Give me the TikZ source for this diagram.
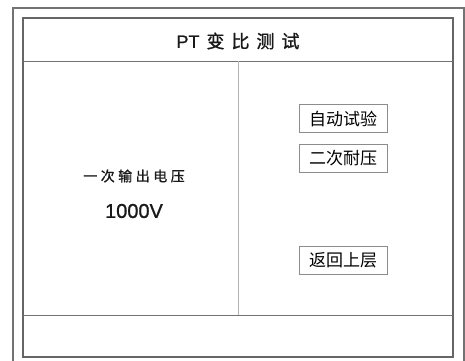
\documentclass[tikz,border=0pt]{standalone}
\usepackage{fontspec}
\setmainfont{Liberation Sans}
\newfontfamily\cjk{Noto Sans CJK SC}
\newfontfamily\cjkb[FakeBold=1.2]{Noto Sans CJK SC}
\newfontfamily\latb[FakeBold=1.0]{Liberation Sans}
\begin{document}
\begin{tikzpicture}[x=1pt,y=-1pt,
  frameline/.style={draw=black!60,line width=1.6pt},
  outerline/.style={draw=black!55,line width=1.3pt},
  divline/.style={draw=black!55,line width=0.9pt},
  vline/.style={draw=black!30,line width=1pt},
  btn/.style={draw=black!45,line width=0.8pt,minimum width=88pt,minimum height=28pt,inner sep=0pt,font=\cjk\fontsize{17}{17}\selectfont,text=black},
  lbl/.style={inner sep=0pt,text=black!90}]
\useasboundingbox (0,0) rectangle (465,360);
\fill[white] (0,0) rectangle (465,360);
% outer frame (bottom is beyond the picture)
\draw[outerline] (13,370) -- (13,8) -- (464,8) -- (464,370);
% inner frame
\draw[frameline] (23,18) rectangle (453,357);
\coordinate (tl) at (23,61);
\coordinate (tr) at (453,61);
\coordinate (bl) at (23,315);
\coordinate (br) at (453,315);
\coordinate (vt) at (238,61);
\coordinate (vb) at (238,315);
\draw[divline] (tl) -- (tr);
\draw[divline] (bl) -- (br);
\draw[vline] (vt) -- (vb);
% title
\node[lbl] (title) at (238,41) {\latb\fontsize{18}{18}\selectfont PT\hspace{7pt}{\cjkb 变\hspace{7pt}比\hspace{7pt}测\hspace{7pt}试}};
% left labels
\node[lbl] (l1) at (134,176) {\cjkb\fontsize{14}{14}\selectfont 一\hspace{3.5pt}次\hspace{3.5pt}输\hspace{3.5pt}出\hspace{3.5pt}电\hspace{3.5pt}压};
\node[lbl] (l2) at (134,211) {\latb\fontsize{20}{20}\selectfont 1000V};
% buttons
\node[btn] (b1) at (343,118.5) {自动试验};
\node[btn] (b2) at (343,158.5) {二次耐压};
\node[btn] (b3) at (343,260) {返回上层};
\end{tikzpicture}
\end{document}
